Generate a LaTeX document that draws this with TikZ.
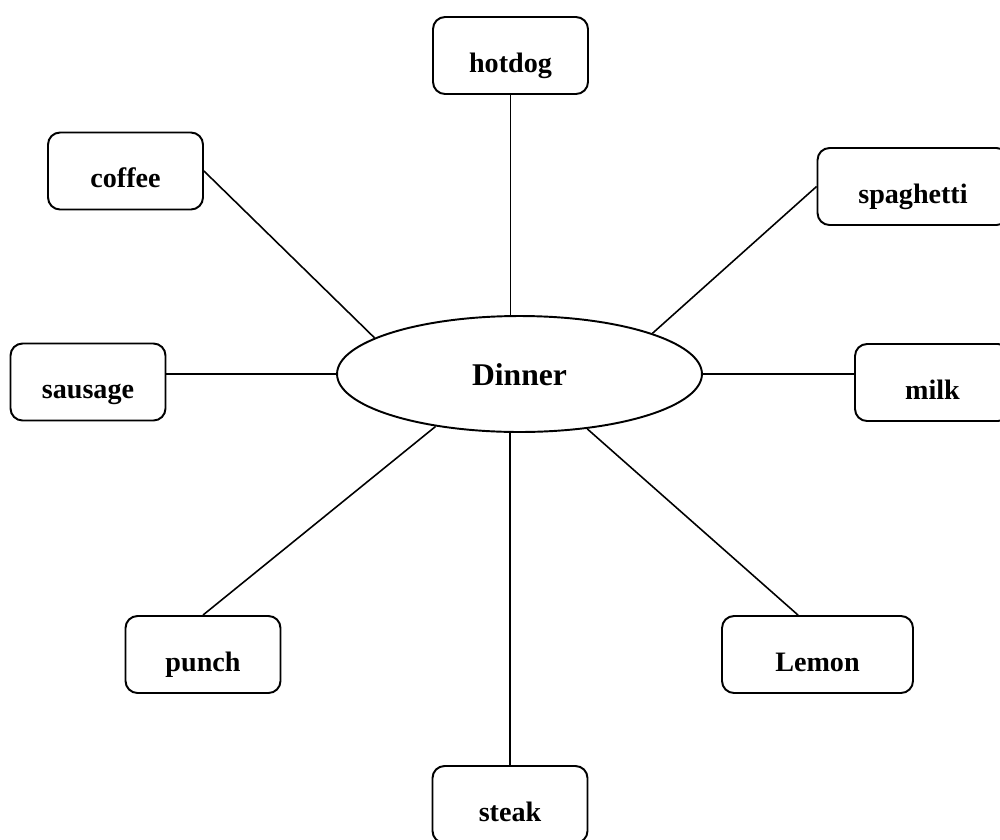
\documentclass[tikz,border=0pt]{standalone}
\usepackage{fontspec}
\setmainfont{Liberation Serif}
\usetikzlibrary{shapes,positioning}

\begin{document}
\begin{tikzpicture}[
        x=0.02cm, y=-0.02cm,
        box/.style={rectangle, draw, rounded corners=0.24cm, line width=1.1pt, minimum width=3.1cm, minimum height=1.54cm, inner ysep=0pt, text height=1.1cm, text depth=0.44cm, font=\bfseries\fontsize{16}{19}\selectfont},
        widebox/.style={box, minimum width=3.82cm},
        hub/.style={ellipse, draw, line width=1.1pt, minimum width=7.3cm, minimum height=2.32cm, text height=0.5cm, text depth=0.05cm, font=\bfseries\fontsize{18}{22}\selectfont},
        link/.style={line width=0.9pt}
    ]
    \useasboundingbox (0,0) rectangle (1000,839);

    % Centre
    \node[hub] (dinner) at (519.5,374) {Dinner};

    % Items around the centre
    \node[box] (hotdog) at (510.5,55.5) {hotdog};
    \node[box] (coffee) at (125.5,171) {coffee};
    \node[widebox] (spaghetti) at (913,186.5) {spaghetti};
    \node[box] (sausage) at (88,382) {sausage};
    \node[box] (milk) at (932.5,382.5) {milk};
    \node[box] (punch) at (203,654.5) {punch};
    \node[widebox] (lemon) at (817.5,654.5) {Lemon};
    \node[box] (steak) at (510,804.5) {steak};

    % Links
    \draw[link] (hotdog.south) -- (hotdog.south |- dinner.north);
    \draw[link] (coffee.east) -- (dinner.166);
    \draw[link] (spaghetti.west) -- (dinner.17);
    \draw[link] (sausage.east |- dinner.west) -- (dinner.west);
    \draw[link] (milk.west |- dinner.east) -- (dinner.east);
    \draw[link] (punch.north) -- (dinner.212);
    \draw[link] ([xshift=-0.39cm]lemon.north) -- (dinner.321);
    \draw[link] (steak.north) -- (steak.north |- dinner.south);

\end{tikzpicture}
\end{document}
